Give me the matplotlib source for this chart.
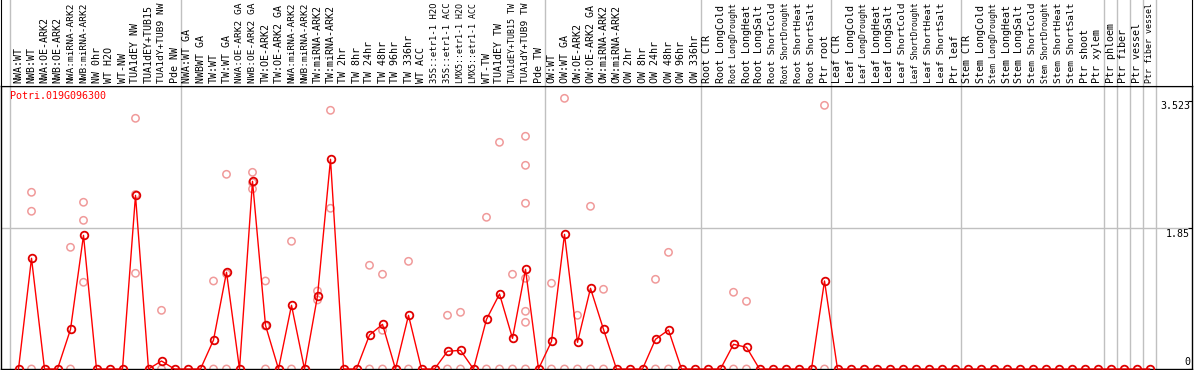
"""Expression profile of Potri.019G096300 across poplar samples (line of means + replicate dots)."""

import matplotlib
matplotlib.use("Agg")
import matplotlib.pyplot as plt
import matplotlib.transforms as mtransforms

samples = [
    "NWA:WT", "NWB:WT", "NWA:OE-ARK2", "NWB:OE-ARK2", "NWA:miRNA-ARK2", "NWB:miRNA-ARK2",
    "NW 0hr", "WT H2O", "WT-NW", "TUA1dEY NW", "TUA1dEY+TUB15", "TUA1dY+TUB9 NW", "Pde NW",
    "NWA:WT GA", "NWBWT GA", "TW:WT", "TW:WT GA", "NWA:OE-ARK2 GA", "NWB:OE-ARK2 GA",
    "TW:OE-ARK2", "TW:OE-ARK2 GA", "NWA:miRNA-ARK2", "NWB:miRNA-ARK2", "TW:miRNA-ARK2",
    "TW:miRNA-ARK2", "TW 2hr", "TW 8hr", "TW 24hr", "TW 48hr", "TW 96hr", "TW 336hr",
    "WT ACC", "35S::etr1-1 H2O", "35S::etr1-1 ACC", "LMX5::etr1-1 H2O", "LMX5::etr1-1 ACC",
    "WT-TW", "TUA1dEY TW", "TUA1dEY+TUB15 TW", "TUA1dY+TUB9 TW", "Pde TW",
    "OW:WT", "OW:WT GA", "OW:OE-ARK2", "OW:OE-ARK2 GA", "OW:miRNA-ARK2", "OW:miRNA-ARK2",
    "OW 2hr", "OW 8hr", "OW 24hr", "OW 48hr", "OW 96hr", "OW 336hr",
    "Root CTR", "Root LongCold", "Root LongDrought", "Root LongHeat", "Root LongSalt",
    "Root ShortCold", "Root ShortDrought", "Root ShortHeat", "Root ShortSalt", "Ptr root",
    "Leaf CTR", "Leaf LongCold", "Leaf LongDrought", "Leaf LongHeat", "Leaf LongSalt",
    "Leaf ShortCold", "Leaf ShortDrought", "Leaf ShortHeat", "Leaf ShortSalt", "Ptr leaf",
    "Stem CTR", "Stem LongCold", "Stem LongDrought", "Stem LongHeat", "Stem LongSalt",
    "Stem ShortCold", "Stem ShortDrought", "Stem ShortHeat", "Stem ShortSalt", "Ptr shoot",
    "Ptr xylem", "Ptr phloem", "Ptr fiber", "Ptr vessel", "Ptr fiber vessel",
]

# mean expression per sample
means = [
    0, 1.453, 0, 0, 0.52, 1.754, 0, 0, 0, 2.279, 0, 0.105, 0,
    0, 0, 0.38, 1.269, 0, 2.463, 0.573, 0, 0.836, 0, 0.958, 2.752, 0, 0, 0.446, 0.586, 0, 0.704,
    0, 0, 0.232, 0.245, 0, 0.652, 0.984, 0.402, 1.308, 0,
    0.363, 1.767, 0.35, 1.059, 0.52, 0, 0, 0, 0.39, 0.512, 0, 0,
    0, 0, 0.324, 0.285, 0, 0, 0, 0, 0, 1.155,
    0, 0, 0, 0, 0, 0, 0, 0, 0, 0,
    0, 0, 0, 0, 0, 0, 0, 0, 0, 0, 0, 0, 0, 0, 0,
]

# individual replicates (sample index, value)
rep_idx = [1, 1, 1, 4, 4, 5, 5, 5, 9, 9, 9, 11, 11, 15, 15, 16, 16, 16, 18, 18, 18,
           19, 19, 19, 21, 21, 23, 23, 24, 24, 27, 27, 28, 28, 28, 30, 30, 33, 33, 34, 34,
           36, 36, 37, 37, 38, 38, 39, 39, 39, 39, 39, 39, 39, 41, 41, 42, 42, 43, 43,
           44, 44, 45, 45, 49, 49, 50, 50, 55, 55, 56, 56, 62, 62]
rep_val = [2.319, 2.07, 0, 1.597, 0, 2.188, 1.951, 1.138, 3.29, 2.29, 1.256, 0.77, 0,
           1.155, 0, 2.555, 1.25, 0, 2.581, 2.362, 2.446, 1.155, 0.564, 0, 1.676, 0,
           1.024, 0.906, 3.395, 2.109, 1.361, 0, 1.243, 0.508, 0, 1.413, 0, 0.705, 0,
           0.744, 0, 1.991, 0, 2.975, 0, 1.243, 0, 3.054, 2.673, 2.175, 1.19, 0.757,
           0.613, 0, 1.125, 0, 3.552, 0, 0.705, 0, 2.135, 0, 1.046, 0, 1.177, 0,
           1.531, 0, 1.007, 0, 0.888, 0, 3.46, 0]

group_breaks = [-0.65, 12.5, 40.5, 52.5, 62.5, 72.5, 83.5, 84.5, 85.5, 86.5, 87.5]
y_ticks = [0, 1.85, 3.523]
gene = "Potri.019G096300"

W, H = 1194, 370
MONO = "DejaVu Sans Mono"
GRID = "#c0c0c0"

fig = plt.figure(figsize=(W / 100, H / 100), dpi=100)
xlim = ((1 - 18.5) / 13, (1192 - 18.5) / 13)

# main plot area: pixel rows 86..369
ax = fig.add_axes([1 / W, 1 / H, 1191 / W, 283 / H])
ax.set_xlim(*xlim)
ax.set_ylim(0, 283 / 76.2)
for s in ax.spines.values():
    s.set_color("black")
    s.set_linewidth(1)
ax.set_xticks([])
ax.set_yticks(y_ticks)
ax.tick_params(axis="y", left=False, right=True, labelleft=False, direction="in",
               length=3, color="black")
ax.axhline(1.85, color=GRID, lw=1, zorder=0)
for b in group_breaks:
    ax.axvline(b, color=GRID, lw=1, zorder=0)

x = list(range(len(samples)))
ax.scatter(rep_idx, rep_val, s=28, facecolors="none", edgecolors="#f09a9a",
           linewidths=1.1, zorder=2, clip_on=False)
ax.plot(x, means, color="red", lw=1, marker="o", ms=5.5, mfc="none", mec="#e00000",
        mew=1.3, zorder=3, clip_on=False)

tr = mtransforms.blended_transform_factory(ax.transAxes, ax.transData)
for v in y_ticks:
    va = "bottom" if v == 0 else "top"
    ax.text(0.9985, v + (0.03 if v == 0 else -0.01), f"{v:g}", transform=tr,
            ha="right", va=va, fontsize=7.2, family=MONO)

fig.text(10 / W, 1 - 91 / H, gene, color="red", fontsize=7.2, family=MONO,
         ha="left", va="top")

# label strip above the plot
lab = fig.add_axes([1 / W, 1 - 86 / H, 1191 / W, 86 / H])
lab.set_xlim(*xlim)
lab.set_ylim(0, 1)
lab.set_xticks([])
lab.set_yticks([])
lab.spines["top"].set_visible(False)
for b in group_breaks:
    lab.axvline(b, color=GRID, lw=1, zorder=0)
for i, name in enumerate(samples):
    # long names are shrunk so they stay inside the strip
    size = min(7.2, 80 / (len(name) * 0.602) * 0.72)
    lab.text(i, 0.035, name, rotation=90, ha="center", va="bottom",
             fontsize=size, family=MONO, clip_on=False)

fig.savefig("out.png", dpi=100)
